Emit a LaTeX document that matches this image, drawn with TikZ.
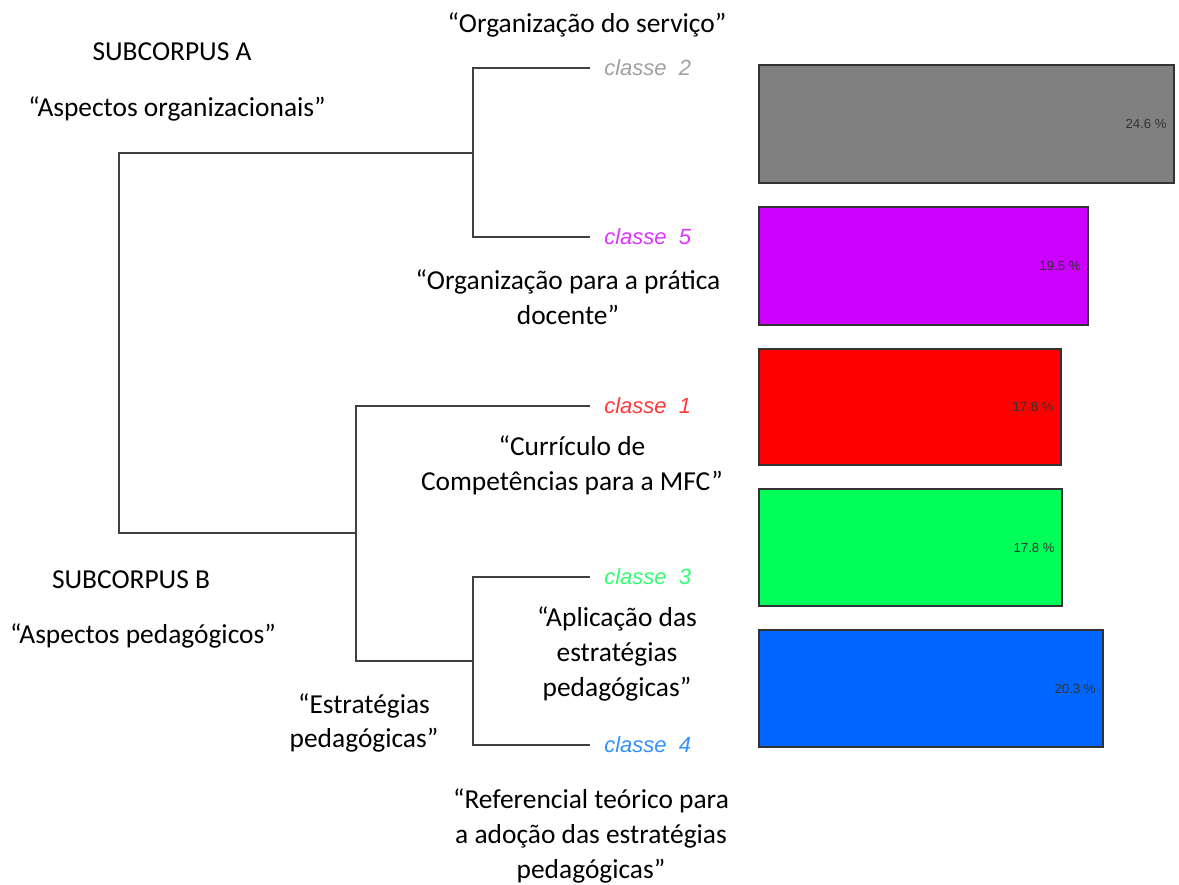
\documentclass[tikz,border=0pt]{standalone}
\usepackage{fontspec}
\setmainfont{Carlito}
\newfontfamily\rfont{Liberation Sans}
\usetikzlibrary{positioning,fit}

\definecolor{barcinza}{HTML}{808080}
\definecolor{barroxo}{HTML}{CC00FF}
\definecolor{barverm}{HTML}{FF0000}
\definecolor{barverde}{HTML}{00FF58}
\definecolor{barazul}{HTML}{0066FF}
\definecolor{txtcinza}{HTML}{A0A0A0}
\definecolor{txtroxo}{HTML}{DD33FF}
\definecolor{txtverm}{HTML}{FF3838}
\definecolor{txtverde}{HTML}{30FF70}
\definecolor{txtazul}{HTML}{3390FF}

\tikzset{
  ramo/.style={draw=black!75, line width=0.9pt},
  rotulo/.style={align=center, inner sep=0, font=\fontsize{15.6}{19.8}\selectfont},
  classe/.style={inner sep=0, anchor=west, font=\rfont\itshape\fontsize{12.5}{14}\selectfont},
  barra/.style={draw=black!80, line width=0.6pt, inner sep=0},
  pct/.style={inner sep=0, anchor=east, text=black!80, font=\rfont\fontsize{7.5}{8}\selectfont}
}

\begin{document}
\begin{tikzpicture}[x=0.02cm, y=-0.02cm]
  \useasboundingbox (0,0) rectangle (1179,885);

  % ends of the leaves and joints of the tree
  \coordinate (c2) at (590,68);
  \coordinate (c5) at (590,237);
  \coordinate (c1) at (590,406);
  \coordinate (c3) at (590,577);
  \coordinate (c4) at (590,745);
  \coordinate (jA) at (473,153);
  \coordinate (jC) at (473,661);
  \coordinate (jB) at (356,533);
  \coordinate (raiz) at (119,343);

  \draw[ramo] (c2) -| (jA) |- (c5);
  \draw[ramo] (c3) -| (jC) |- (c4);
  \draw[ramo] (c1) -| (jB) |- (jC);
  \draw[ramo] (jA) -| (raiz) |- (jB);

  \node[classe, right=0.28cm of c2, text=txtcinza] (k2) {classe~~2};
  \node[classe, right=0.28cm of c5, text=txtroxo] (k5) {classe~~5};
  \node[classe, right=0.28cm of c1, text=txtverm] (k1) {classe~~1};
  \node[classe, right=0.28cm of c3, text=txtverde] (k3) {classe~~3};
  \node[classe, right=0.28cm of c4, text=txtazul] (k4) {classe~~4};

  % bars
  \node[barra, fill=barcinza, fit={(759,65) (1174,183)}] (b2) {};
  \node[barra, fill=barroxo, fit={(759,207) (1088,325)}] (b5) {};
  \node[barra, fill=barverm, fit={(759,349) (1061,465)}] (b1) {};
  \node[barra, fill=barverde, fit={(759,489) (1062,606)}] (b3) {};
  \node[barra, fill=barazul, fit={(759,630) (1103,747)}] (b4) {};

  \node[pct, left=0.15cm of b2.east] (p2) {24.6 \%};
  \node[pct, left=0.15cm of b5.east] (p5) {19.5 \%};
  \node[pct, left=0.15cm of b1.east] (p1) {17.8 \%};
  \node[pct, left=0.15cm of b3.east] (p3) {17.8 \%};
  \node[pct, left=0.15cm of b4.east] (p4) {20.3 \%};

  % labels
  \node[rotulo] (subA) at (172,52) {SUBCORPUS A};
  \node[rotulo] (aspA) at (177,109) {“Aspectos organizacionais”};
  \node[rotulo] (org2) at (587,25) {“Organização do serviço”};
  \node[rotulo] (org5) at (568,297) {“Organização para a prática\\docente”};
  \node[rotulo] (cur1) at (572,465) {“Currículo de\\Competências para a MFC”};
  \node[rotulo] (subB) at (131,580) {SUBCORPUS B};
  \node[rotulo] (aspB) at (143,636) {“Aspectos pedagógicos”};
  \node[rotulo] (apl3) at (617,654) {“Aplicação das\\estratégias\\pedagógicas”};
  \node[rotulo] (estC) at (364,723) {“Estratégias\\pedagógicas”};
  \node[rotulo] (ref4) at (591,836) {“Referencial teórico para\\a adoção das estratégias\\pedagógicas”};
\end{tikzpicture}
\end{document}
